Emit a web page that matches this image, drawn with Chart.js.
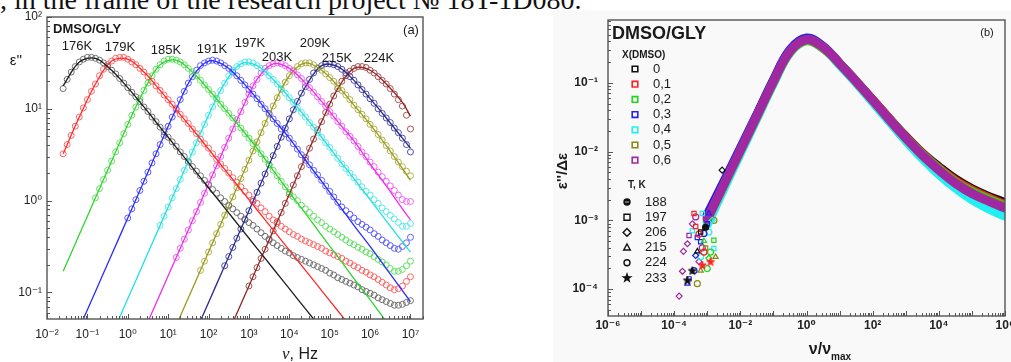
<!DOCTYPE html>
<html>
<head>
<meta charset="utf-8">
<title>DMSO/GLY dielectric loss</title>
<script src="https://cdn.jsdelivr.net/npm/chart.js@4.4.1/dist/chart.umd.min.js"></script>
<style>
  html, body { margin: 0; padding: 0; background: #fff; overflow: hidden; }
  body { position: relative; width: 1011px; height: 362px; }
  .caption { position: absolute; left: 0; top: -14.5px; white-space: nowrap;
    font: 28px/28px 'Liberation Serif', 'Times New Roman', serif; color: #111; }
  .sheet { position: absolute; left: 553px; top: 10px; width: 458px; height: 352px; background: #f9f9f9; }
  #chartA { position: absolute; left: 0; top: 0; }
  #chartB { position: absolute; left: 540px; top: 0; }
</style>
</head>
<body>
<div class="caption">, in the frame of the research project № 18T-1D080.</div>
<div class="sheet"></div>
<canvas id="chartA" width="440" height="362"></canvas>
<canvas id="chartB" width="520" height="362"></canvas>
<script>
// ---------- panel (a): eps'' vs frequency, values as log10 ----------
const lgFreq = [-1.6, -1.5, -1.4, -1.3, -1.2, -1.1, -1.0, -0.9, -0.8, -0.7, -0.6, -0.5, -0.4, -0.3, -0.2, -0.1,
  0.0, 0.1, 0.2, 0.3, 0.4, 0.5, 0.6, 0.7, 0.8, 0.9, 1.0, 1.1, 1.2, 1.3, 1.4, 1.5, 1.6, 1.7, 1.8, 1.9,
  2.0, 2.1, 2.2, 2.3, 2.4, 2.5, 2.6, 2.7, 2.8, 2.9, 3.0, 3.1, 3.2, 3.3, 3.4, 3.5, 3.6, 3.7, 3.8, 3.9,
  4.0, 4.1, 4.2, 4.3, 4.4, 4.5, 4.6, 4.7, 4.8, 4.9, 5.0, 5.1, 5.2, 5.3, 5.4, 5.5, 5.6, 5.7, 5.8, 5.9,
  6.0, 6.1, 6.2, 6.3, 6.4, 6.5, 6.6, 6.7, 6.8, 6.9, 7.0];
const lgFreqFit = [-1.6, -1.2, -0.8, -0.4, 0.0, 0.4, 0.8, 1.2, 1.6, 2.0, 2.4, 2.8, 3.2, 3.6, 4.0, 4.4, 4.8, 5.2, 5.6, 6.0, 6.4, 6.8, 7.0];
const temps = ['176K', '179K', '185K', '191K', '197K', '203K', '209K', '215K', '224K'];
// index into lgFreq of the first measured point of each temperature
const firstFreqIndex = [0, 0, 8, 16, 24, 28, 34, 40, 46];

// measured points (open circles)
const lgEps176 = [1.22, 1.32, 1.40, 1.46, 1.51, 1.54, 1.56, 1.56, 1.55, 1.53, 1.50, 1.46, 1.42, 1.38, 1.33, 1.28, 1.23, 1.18, 1.13, 1.08,
  1.02, 0.97, 0.91, 0.86, 0.80, 0.75, 0.69, 0.64, 0.59, 0.53, 0.48, 0.42, 0.37, 0.32, 0.27, 0.22, 0.17, 0.12, 0.08, 0.03,
  -0.01, -0.05, -0.09, -0.13, -0.17, -0.20, -0.24, -0.27, -0.31, -0.35, -0.39, -0.42, -0.46, -0.49, -0.52, -0.55, -0.57, -0.60, -0.62, -0.64,
  -0.66, -0.68, -0.70, -0.72, -0.74, -0.76, -0.79, -0.81, -0.84, -0.86, -0.88, -0.90, -0.92, -0.94, -0.97, -0.99, -1.01, -1.03, -1.06, -1.08,
  -1.10, -1.12, -1.14, -1.14, -1.13, -1.11, -1.09];
const lgEps179 = [0.51, 0.61, 0.71, 0.81, 0.91, 1.01, 1.10, 1.19, 1.27, 1.36, 1.43, 1.48, 1.52, 1.55, 1.56, 1.56, 1.54, 1.51, 1.48, 1.44,
  1.40, 1.35, 1.30, 1.25, 1.20, 1.15, 1.10, 1.05, 0.99, 0.94, 0.89, 0.84, 0.78, 0.73, 0.67, 0.62, 0.57, 0.51, 0.45, 0.40,
  0.35, 0.30, 0.25, 0.20, 0.15, 0.10, 0.06, 0.01, -0.03, -0.08, -0.12, -0.17, -0.21, -0.25, -0.28, -0.31, -0.34, -0.37, -0.39, -0.42,
  -0.44, -0.46, -0.48, -0.50, -0.52, -0.55, -0.57, -0.59, -0.61, -0.63, -0.66, -0.68, -0.71, -0.73, -0.76, -0.78, -0.81, -0.83, -0.86, -0.89,
  -0.92, -0.95, -0.97, -0.96, -0.93, -0.88, -0.83];
const lgEps185 = [0.03, 0.13, 0.23, 0.33, 0.43, 0.53, 0.63, 0.73, 0.83, 0.93, 1.02, 1.11, 1.20, 1.28, 1.36, 1.43, 1.48, 1.52, 1.54, 1.54,
  1.53, 1.51, 1.48, 1.44, 1.40, 1.36, 1.31, 1.26, 1.21, 1.16, 1.11, 1.05, 1.00, 0.95, 0.90, 0.84, 0.79, 0.73, 0.68, 0.62,
  0.57, 0.51, 0.45, 0.39, 0.33, 0.27, 0.21, 0.15, 0.09, 0.04, 0.00, -0.05, -0.09, -0.13, -0.17, -0.21, -0.24, -0.28, -0.31, -0.34,
  -0.37, -0.40, -0.43, -0.46, -0.48, -0.51, -0.53, -0.56, -0.58, -0.61, -0.64, -0.67, -0.70, -0.74, -0.77, -0.77, -0.75, -0.71, -0.66];
const lgEps191 = [-0.19, -0.09, 0.01, 0.11, 0.21, 0.31, 0.41, 0.51, 0.61, 0.71, 0.81, 0.91, 1.00, 1.10, 1.19, 1.28, 1.35, 1.42, 1.47, 1.50,
  1.52, 1.53, 1.52, 1.50, 1.47, 1.44, 1.40, 1.36, 1.31, 1.26, 1.21, 1.16, 1.11, 1.05, 1.00, 0.95, 0.89, 0.84, 0.78, 0.73,
  0.68, 0.62, 0.56, 0.50, 0.44, 0.39, 0.33, 0.28, 0.22, 0.16, 0.10, 0.04, -0.02, -0.07, -0.11, -0.15, -0.19, -0.23, -0.26, -0.29,
  -0.32, -0.36, -0.39, -0.43, -0.46, -0.49, -0.52, -0.53, -0.50, -0.46, -0.40];
const lgEps197 = [-0.27, -0.17, -0.07, 0.03, 0.13, 0.23, 0.33, 0.43, 0.53, 0.63, 0.73, 0.83, 0.93, 1.02, 1.11, 1.20, 1.28, 1.36, 1.42, 1.46,
  1.49, 1.51, 1.51, 1.50, 1.47, 1.44, 1.40, 1.36, 1.32, 1.27, 1.22, 1.17, 1.12, 1.07, 1.01, 0.96, 0.91, 0.85, 0.80, 0.74,
  0.69, 0.63, 0.58, 0.52, 0.46, 0.40, 0.35, 0.30, 0.25, 0.20, 0.15, 0.10, 0.06, 0.01, -0.03, -0.08, -0.12, -0.16, -0.20, -0.24,
  -0.28, -0.28, -0.25];
const lgEps203 = [-0.62, -0.52, -0.42, -0.32, -0.22, -0.12, -0.02, 0.08, 0.18, 0.28, 0.38, 0.48, 0.58, 0.68, 0.78, 0.88, 0.97, 1.07, 1.16, 1.25,
  1.32, 1.39, 1.44, 1.47, 1.49, 1.50, 1.49, 1.47, 1.44, 1.41, 1.37, 1.33, 1.28, 1.23, 1.18, 1.13, 1.08, 1.03, 0.97, 0.92,
  0.86, 0.81, 0.75, 0.70, 0.65, 0.59, 0.53, 0.48, 0.42, 0.37, 0.31, 0.26, 0.21, 0.16, 0.11, 0.06, 0.01, -0.01, -0.01];
const lgEps209 = [-0.76, -0.66, -0.56, -0.46, -0.36, -0.26, -0.16, -0.06, 0.04, 0.14, 0.24, 0.34, 0.44, 0.54, 0.64, 0.74, 0.84, 0.94, 1.03, 1.12,
  1.21, 1.29, 1.36, 1.42, 1.46, 1.49, 1.50, 1.50, 1.48, 1.45, 1.42, 1.38, 1.34, 1.30, 1.25, 1.20, 1.15, 1.10, 1.04, 0.99,
  0.94, 0.89, 0.83, 0.78, 0.72, 0.66, 0.60, 0.54, 0.48, 0.42, 0.37, 0.32, 0.27];
const lgEps215 = [-0.71, -0.61, -0.51, -0.41, -0.31, -0.21, -0.11, -0.01, 0.09, 0.19, 0.29, 0.39, 0.49, 0.59, 0.69, 0.79, 0.89, 0.99, 1.08, 1.17,
  1.24, 1.32, 1.39, 1.44, 1.47, 1.49, 1.49, 1.48, 1.46, 1.43, 1.39, 1.35, 1.31, 1.26, 1.21, 1.16, 1.11, 1.06, 1.00, 0.95,
  0.90, 0.85, 0.79, 0.74, 0.68, 0.61, 0.53];
const lgEps224 = [-0.93, -0.83, -0.73, -0.63, -0.53, -0.43, -0.33, -0.23, -0.13, -0.03, 0.07, 0.17, 0.27, 0.37, 0.47, 0.57, 0.67, 0.77, 0.86, 0.96,
  1.05, 1.14, 1.22, 1.30, 1.36, 1.41, 1.44, 1.46, 1.46, 1.45, 1.42, 1.39, 1.35, 1.31, 1.27, 1.22, 1.16, 1.10, 1.03, 0.93, 0.78];

// fitted curves (solid lines)
const lgFit176 = [1.25, 1.51, 1.55, 1.42, 1.23, 1.02, 0.80, 0.58, 0.36, 0.14, -0.08, -0.30, -0.52, -0.74, -0.96, -1.18, -1.40,
  null, null, null, null, null, null];
const lgFit179 = [0.51, 0.91, 1.27, 1.52, 1.54, 1.40, 1.20, 0.99, 0.78, 0.56, 0.34, 0.12, -0.10, -0.32, -0.54, -0.76, -0.98, -1.20, -1.42,
  null, null, null, null];
const lgFit185 = [-0.77, -0.37, 0.03, 0.43, 0.83, 1.20, 1.48, 1.53, 1.40, 1.21, 1.00, 0.79, 0.57, 0.33, 0.09, -0.14, -0.38, -0.61, -0.85,
  -1.08, -1.32, null, null];
const lgFit191 = [null, -1.39, -0.99, -0.59, -0.19, 0.21, 0.61, 1.00, 1.35, 1.52, 1.47, 1.31, 1.11, 0.89, 0.68, 0.44, 0.21, -0.03, -0.27,
  -0.50, -0.74, -0.98, -1.10];
const lgFit197 = [null, null, null, -1.47, -1.07, -0.67, -0.27, 0.13, 0.53, 0.93, 1.28, 1.49, 1.47, 1.32, 1.12, 0.91, 0.69, 0.46, 0.24,
  0.01, -0.22, -0.45, -0.56];
const lgFit203 = [null, null, null, null, null, -1.42, -1.02, -0.62, -0.22, 0.18, 0.58, 0.97, 1.32, 1.49, 1.44, 1.28, 1.08, 0.86, 0.65,
  0.40, 0.16, -0.09, -0.21];
const lgFit209 = [null, null, null, null, null, null, null, -1.36, -0.96, -0.56, -0.16, 0.24, 0.64, 1.03, 1.36, 1.50, 1.42, 1.25, 1.04,
  0.83, 0.60, 0.35, 0.22];
const lgFit215 = [null, null, null, null, null, null, null, null, -1.51, -1.11, -0.71, -0.31, 0.09, 0.49, 0.89, 1.24, 1.47, 1.46, 1.31,
  1.11, 0.90, 0.68, 0.57];
const lgFit224 = [null, null, null, null, null, null, null, null, null, null, -1.53, -1.13, -0.73, -0.33, 0.07, 0.47, 0.86, 1.22, 1.44,
  1.42, 1.27, 1.07, 0.92];

// ---------- panel (b): master curve, eps''/d-eps vs nu/nu_max (log10) ----------
const lgNuRel = [-3.0, -2.5, -2.0, -1.5, -1.0, -0.5, 0.0, 0.5, 1.0, 1.5, 2.0, 2.5, 3.0, 3.5, 4.0, 4.5, 5.0, 5.5, 6.0];
const concLabels = ['0', '0,1', '0,2', '0,3', '0,4', '0,5', '0,6'];
const tempLabelsB = ['188', '197', '206', '215', '224', '233'];
const lgNormX00 = [-2.96, -2.47, -1.98, -1.48, -0.98, -0.54, -0.37, -0.48, -0.72, -0.98, -1.25, -1.52, -1.78, -2.02, -2.22, -2.40, -2.54, -2.65, -2.74];
const lgNormX01 = [-2.93, -2.45, -1.97, -1.47, -0.97, -0.53, -0.37, -0.48, -0.72, -0.98, -1.25, -1.52, -1.79, -2.03, -2.24, -2.42, -2.56, -2.67, -2.77];
const lgNormX02 = [-3.02, -2.50, -2.00, -1.50, -1.00, -0.56, -0.39, -0.50, -0.73, -0.99, -1.26, -1.53, -1.80, -2.04, -2.25, -2.44, -2.58, -2.69, -2.79];
const lgNormX03 = [-2.92, -2.44, -1.95, -1.46, -0.96, -0.52, -0.35, -0.47, -0.72, -0.99, -1.27, -1.55, -1.83, -2.08, -2.30, -2.50, -2.65, -2.77, -2.87];
const lgNormX04 = [-3.06, -2.54, -2.03, -1.52, -1.01, -0.56, -0.38, -0.49, -0.74, -1.00, -1.28, -1.56, -1.84, -2.10, -2.33, -2.53, -2.70, -2.83, -2.94];
const lgNormX05 = [-2.99, -2.49, -1.99, -1.49, -0.99, -0.55, -0.38, -0.49, -0.72, -0.98, -1.25, -1.53, -1.80, -2.05, -2.26, -2.45, -2.60, -2.71, -2.80];
const lgNormX06 = [-2.98, -2.48, -1.98, -1.48, -0.98, -0.54, -0.37, -0.48, -0.72, -0.98, -1.25, -1.53, -1.80, -2.05, -2.27, -2.46, -2.61, -2.72, -2.82];

// scattered low-frequency points: position, concentration index, temperature index
const tailLgX = [-3.85, -3.75, -3.72, -3.60, -3.55, -3.45, -3.35, -3.15, -3.25,
  -3.60, -3.55, -3.40, -3.35, -3.20, -3.10, -3.00, -2.95, -3.30,
  -3.45, -3.60, -3.20, -3.30, -2.55, -3.05,
  -3.15, -2.80, -2.95, -3.20, -2.85, -3.45,
  -3.00, -2.90, -2.80, -2.95, -3.10,
  -3.30, -3.20, -2.75, -2.80, -3.05,
  -3.15, -3.10, -3.35, -3.40, -2.90, -3.25];
const tailLgY = [-4.10, -3.74, -3.45, -3.34, -3.22, -3.05, -2.95, -3.40, -3.60,
  -3.92, -3.85, -3.73, -3.51, -3.31, -3.19, -3.05, -2.90, -3.25,
  -3.73, -3.87, -3.17, -3.45, -2.27, -3.10,
  -2.90, -3.41, -3.17, -3.53, -3.00, -3.15,
  -3.70, -3.46, -3.29, -3.55, -3.30,
  -3.92, -3.73, -3.53, -3.00, -3.40,
  -3.65, -3.46, -3.09, -2.90, -3.60, -3.20];
const tailConc = [6, 6, 6, 6, 6, 6, 6, 6, 6, 3, 3, 3, 3, 3, 3, 3, 3, 3, 0, 0, 0, 0, 0, 0, 4, 4, 4, 4, 4, 4,
  2, 2, 2, 2, 2, 5, 5, 5, 5, 5, 1, 1, 1, 1, 1, 1];
const tailTemp = [2, 2, 2, 2, 1, 2, 4, 4, 2, 3, 1, 4, 2, 1, 4, 1, 3, 1, 5, 5, 1, 3, 2, 0, 1, 1, 4, 4, 2, 1,
  4, 4, 1, 2, 3, 4, 3, 3, 4, 1, 5, 4, 1, 1, 5, 4];

// axis decades (exponents)
const decadesAx = [-2, -1, 0, 1, 2, 3, 4, 5, 6, 7];
const decadesAy = [-1, 0, 1, 2];
const decadesBx = [-6, -4, -2, 0, 2, 4, 6];
const decadesBy = [-4, -3, -2, -1];

// ---------- styles ----------
const SANS = "'Liberation Sans', Arial, 'DejaVu Sans', sans-serif";
const SERIF = "'Liberation Serif', 'Times New Roman', serif";
Chart.defaults.font.family = SANS;
Chart.defaults.color = '#222';

const lineColorsA = ['#1c1c1c', '#ff2b2b', '#2fd52f', '#2b2bff', '#22e0e0', '#ee2cee', '#9a9a1e', '#2a2a8c', '#8e2424'];
const markColorsA = ['#707070', '#ff6464', '#62e062', '#5c5cff', '#58e8e8', '#f064f0', '#b0b04a', '#4c4caa', '#aa5252'];
const colorsB = ['#111111', '#ff2020', '#20d820', '#2020f0', '#20f0f0', '#8a8a12', '#a028a0'];
const shapesB = ['dot', 'rect', 'rectRot', 'triangle', 'circle', 'star'];

const SUP = { '-': '⁻', '0': '⁰', '1': '¹', '2': '²', '3': '³', '4': '⁴', '5': '⁵', '6': '⁶', '7': '⁷', '8': '⁸', '9': '⁹' };
const pow = v => Math.pow(10, v);
const tickLabel = v => '10' + String(Math.round(Math.log10(v))).replace(/./g, c => SUP[c]);

function points(xs, ys, first) {
  const out = [];
  const off = first || 0;
  ys.forEach((v, i) => { if (v !== null) out.push({ x: pow(xs[i + off]), y: pow(v) }); });
  return out;
}

function decadeAxis(min, max, decs, font, padding, size, horizontal) {
  return {
    type: 'logarithmic', min, max,
    grid: { display: false, drawTicks: false },
    border: { display: false },
    afterBuildTicks: s => { s.ticks = decs.map(e => ({ value: pow(e) })); },
    afterFit: s => { if (horizontal) s.height = size; else s.width = size; },
    ticks: { font, padding, color: '#222', autoSkip: false, maxRotation: 0, callback: tickLabel }
  };
}

function drawShape(ctx, shape, x, y, r, color, filled, lw) {
  ctx.save();
  ctx.strokeStyle = color;
  ctx.fillStyle = color;
  ctx.lineWidth = lw;
  ctx.beginPath();
  if (shape === 'rect') ctx.rect(x - r, y - r, 2 * r, 2 * r);
  else if (shape === 'rectRot') {
    ctx.moveTo(x, y - r * 1.3); ctx.lineTo(x + r * 1.3, y); ctx.lineTo(x, y + r * 1.3); ctx.lineTo(x - r * 1.3, y); ctx.closePath();
  } else if (shape === 'triangle') {
    ctx.moveTo(x, y - r * 1.2); ctx.lineTo(x + r * 1.1, y + r * 0.8); ctx.lineTo(x - r * 1.1, y + r * 0.8); ctx.closePath();
  } else if (shape === 'star') {
    for (let i = 0; i < 10; i++) {
      const a = -Math.PI / 2 + i * Math.PI / 5, rr = i % 2 ? r * 0.5 : r * 1.25;
      ctx.lineTo(x + rr * Math.cos(a), y + rr * Math.sin(a));
    }
    ctx.closePath();
  } else ctx.arc(x, y, r, 0, Math.PI * 2);
  if (filled) ctx.fill();
  ctx.stroke();
  if (shape === 'dot') {
    ctx.beginPath(); ctx.strokeStyle = '#bbb'; ctx.lineWidth = 1;
    ctx.moveTo(x - r + 1, y); ctx.lineTo(x + r - 1, y); ctx.stroke();
  }
  ctx.restore();
}

const starCache = {};
function starImage(color) {
  if (!starCache[color]) {
    const c = document.createElement('canvas');
    c.width = 10; c.height = 10;
    drawShape(c.getContext('2d'), 'star', 5, 5.3, 3.4, color, true, 1);
    starCache[color] = c;
  }
  return starCache[color];
}

// box + inward major/minor ticks
function framePlugin(o) {
  return {
    id: 'frame',
    afterDatasetsDraw(chart) {
      const { ctx, chartArea: a } = chart;
      const sx = chart.scales.x, sy = chart.scales.y;
      const marks = s => {
        const out = [];
        for (let e = Math.floor(Math.log10(s.min)); e <= Math.ceil(Math.log10(s.max)); e++) {
          for (let m = 1; m < 10; m++) {
            const v = m * Math.pow(10, e);
            if (v >= s.min * 0.999 && v <= s.max * 1.001) out.push({ v, major: m === 1 });
          }
        }
        return out;
      };
      ctx.save();
      ctx.strokeStyle = o.color;
      ctx.lineWidth = 1;
      ctx.beginPath();
      marks(sx).forEach(t => {
        const p = Math.round(sx.getPixelForValue(t.v)) + 0.5;
        ctx.moveTo(p, a.bottom); ctx.lineTo(p, a.bottom - (t.major ? o.major : o.minor));
      });
      marks(sy).forEach(t => {
        const p = Math.round(sy.getPixelForValue(t.v)) + 0.5;
        ctx.moveTo(a.left, p); ctx.lineTo(a.left + (t.major ? o.major : o.minor), p);
      });
      ctx.stroke();
      ctx.lineWidth = o.width;
      ctx.strokeRect(a.left, a.top, a.right - a.left, a.bottom - a.top);
      ctx.restore();
    }
  };
}

// free text and legend symbols, canvas pixel positions
function notesPlugin(items, marks) {
  return {
    id: 'notes',
    afterDraw(chart) {
      const ctx = chart.ctx;
      items.forEach(it => {
        ctx.save();
        ctx.fillStyle = it.color || '#1a1a1a';
        ctx.textBaseline = 'middle';
        ctx.translate(it.x, it.y);
        if (it.rot) ctx.rotate(it.rot);
        const parts = it.parts || [{ t: it.t, font: it.font }];
        let total = 0;
        parts.forEach(p => { ctx.font = p.font; total += ctx.measureText(p.t).width; });
        let x = it.align === 'center' ? -total / 2 : it.align === 'right' ? -total : 0;
        parts.forEach(p => { ctx.font = p.font; ctx.fillText(p.t, x, p.dy || 0); x += ctx.measureText(p.t).width; });
        ctx.restore();
      });
      (marks || []).forEach(m => drawShape(ctx, m.shape, m.x, m.y, m.r, m.color, m.filled, m.lw));
    }
  };
}

// ---------- chart (a) ----------
const epsA = [lgEps176, lgEps179, lgEps185, lgEps191, lgEps197, lgEps203, lgEps209, lgEps215, lgEps224];
const fitA = [lgFit176, lgFit179, lgFit185, lgFit191, lgFit197, lgFit203, lgFit209, lgFit215, lgFit224];
const datasetsA = [];
temps.forEach((t, k) => {
  datasetsA.push({
    label: t + ' fit', data: points(lgFreqFit, fitA[k]), showLine: true, borderColor: lineColorsA[k],
    borderWidth: 1.3, pointRadius: 0, tension: 0.35, clip: 0, order: k
  });
  datasetsA.push({
    label: t, data: points(lgFreq, epsA[k], firstFreqIndex[k]), showLine: false, pointStyle: 'circle', pointRadius: 3,
    pointBorderWidth: 1, pointBorderColor: markColorsA[k], pointBackgroundColor: 'rgba(0,0,0,0)', order: 20 + k
  });
});

const tempPosA = [[77, 46], [120, 47], [166, 50], [212, 49], [250, 43], [277, 57], [315, 43], [337, 58], [379, 58]];
const notesA = [
  { t: 'DMSO/GLY', x: 53, y: 29, font: 'bold 13px ' + SANS },
  { t: '(a)', x: 411, y: 30, font: '13px ' + SANS, align: 'center' },
  { t: "ε''", x: 16, y: 61, font: '15px ' + SANS, align: 'center' },
  { parts: [{ t: 'ν', font: 'italic 17px ' + SERIF }, { t: ', Hz', font: '16px ' + SANS }], x: 300, y: 355, align: 'center' }
].concat(temps.map((t, k) => ({ t, x: tempPosA[k][0], y: tempPosA[k][1], font: '13px ' + SANS, align: 'center' })));

new Chart(document.getElementById('chartA'), {
  type: 'scatter',
  data: { datasets: datasetsA },
  options: {
    responsive: false, animation: false, events: [],
    layout: { padding: { left: 0, top: 17, right: 17, bottom: 0 } },
    plugins: { legend: { display: false }, tooltip: { enabled: false } },
    scales: {
      x: decadeAxis(0.01, pow(7.31), decadesAx, { size: 12 }, 8, 43, true),
      y: decadeAxis(pow(-1.29), 100, decadesAy, { size: 12 }, 5, 47, false)
    }
  },
  plugins: [framePlugin({ color: '#555', width: 1.4, major: 5, minor: 3 }), notesPlugin(notesA)]
});

// ---------- chart (b) ----------
const normB = [lgNormX00, lgNormX01, lgNormX02, lgNormX03, lgNormX04, lgNormX05, lgNormX06];
const datasetsB = [];
concLabels.forEach((c, k) => {
  datasetsB.push({
    label: 'X=' + c, data: points(lgNuRel, normB[k]), showLine: true, borderColor: colorsB[k], borderWidth: 9,
    borderCapStyle: 'round', pointRadius: 0, tension: 0.4, order: 16 - k
  });
  const tail = [];
  tailConc.forEach((cc, i) => { if (cc === k) tail.push({ x: pow(tailLgX[i]), y: pow(tailLgY[i]), t: tailTemp[i] }); });
  datasetsB.push({
    label: 'X=' + c + ' low', data: tail, showLine: false, pointRadius: 3, pointBorderWidth: 1.2,
    pointBorderColor: colorsB[k],
    pointBackgroundColor: ctx => (ctx.raw && ctx.raw.t === 0 ? colorsB[k] : 'rgba(0,0,0,0)'),
    pointStyle: ctx => {
      const s = ctx.raw ? shapesB[ctx.raw.t] : 'circle';
      return s === 'star' ? starImage(colorsB[k]) : s === 'dot' ? 'circle' : s;
    },
    order: k
  });
});

const notesB = [
  { t: 'DMSO/GLY', x: 72, y: 34, font: 'bold 18px ' + SANS },
  { t: '(b)', x: 447, y: 33, font: '11px ' + SANS, align: 'center' },
  { t: 'X(DMSO)', x: 82, y: 55, font: 'bold 10px ' + SANS },
  { t: 'T, K', x: 88, y: 185, font: 'bold 10px ' + SANS },
  { t: "ε''/Δε", x: 23, y: 171, rot: -Math.PI / 2, font: 'bold 15px ' + SANS, align: 'center' },
  { parts: [{ t: 'ν/ν', font: 'bold 16px ' + SANS }, { t: 'max', font: 'bold 10px ' + SANS, dy: 7 }], x: 290, y: 350, align: 'center' }
].concat(concLabels.map((c, k) => ({ t: c, x: 113, y: 69 + k * 15.2, font: '13px ' + SANS })))
 .concat(tempLabelsB.map((t, k) => ({ t, x: 105, y: 202 + k * 15.2, font: '13px ' + SANS })));
const marksB = concLabels.map((c, k) => ({ shape: 'rect', x: 95, y: 69 + k * 15.2, r: 2.8, color: colorsB[k], filled: false, lw: 1.6 }))
  .concat(tempLabelsB.map((t, k) => ({
    shape: shapesB[k], x: 87, y: 202 + k * 15.2, r: 3, color: '#111',
    filled: shapesB[k] === 'dot' || shapesB[k] === 'star', lw: 1.4
  })));

new Chart(document.getElementById('chartB'), {
  type: 'scatter',
  data: { datasets: datasetsB },
  options: {
    responsive: false, animation: false, events: [],
    layout: { padding: { left: 0, top: 20, right: 55, bottom: 0 } },
    plugins: { legend: { display: false }, tooltip: { enabled: false } },
    scales: {
      x: decadeAxis(1e-6, 1e6, decadesBx, { size: 12, weight: 'bold' }, 2, 46, true),
      y: decadeAxis(pow(-4.39), pow(-0.087), decadesBy, { size: 12, weight: 'bold' }, 10, 68, false)
    }
  },
  plugins: [framePlugin({ color: '#555', width: 1.4, major: 5, minor: 3 }), notesPlugin(notesB, marksB)]
});
</script>
</body>
</html>
